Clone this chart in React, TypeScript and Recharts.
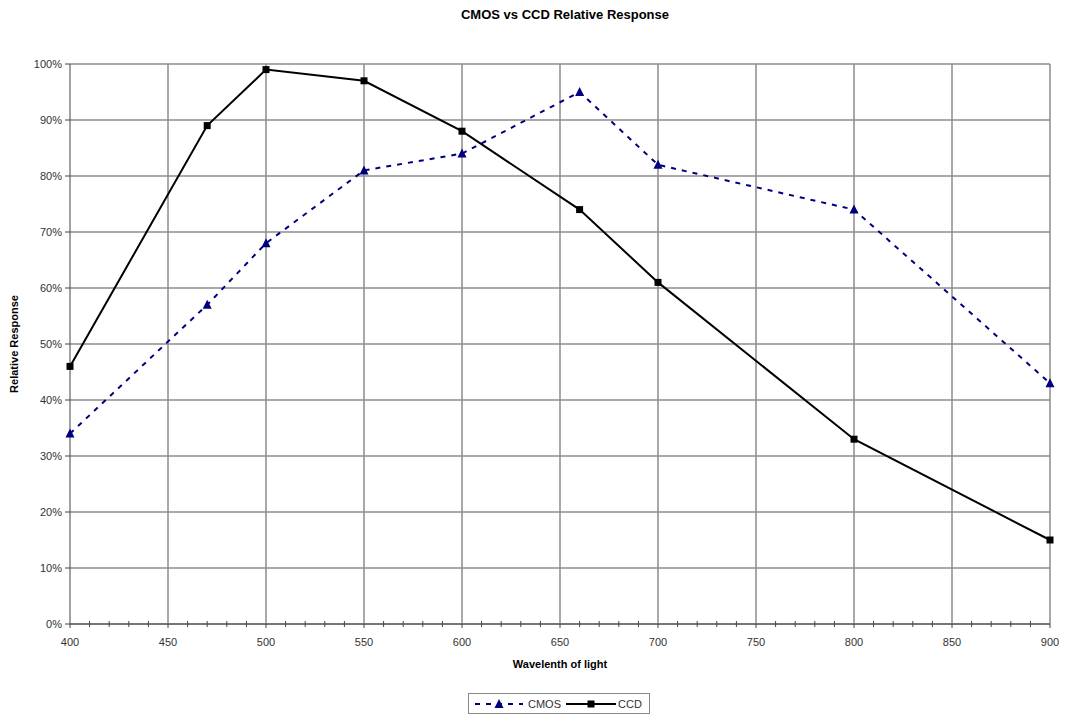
import { LineChart, Line, XAxis, YAxis, CartesianGrid, ReferenceLine } from 'recharts';

const FONT = '"Liberation Sans", Arial, sans-serif';

// values
const wavelengths = [400, 470, 500, 550, 600, 660, 700, 800, 900];
const cmosValues = [34, 57, 68, 81, 84, 95, 82, 74, 43];
const ccdValues = [46, 89, 99, 97, 88, 74, 61, 33, 15];

const majorTicks = [400, 450, 500, 550, 600, 650, 700, 750, 800, 850, 900];
const minorStep = 10;
const xTicks = Array.from({ length: (900 - 400) / minorStep + 1 }, (_, i) => 400 + i * minorStep);
const yTicks = [0, 10, 20, 30, 40, 50, 60, 70, 80, 90, 100];

const CMOS_COLOR = '#00007f';
const CCD_COLOR = '#000000';
const GRID = '#8c8c8c';

const data = wavelengths.map((w, i) => ({ wavelength: w, cmos: cmosValues[i], ccd: ccdValues[i] }));

const XTick = ({ x, y, payload }: any) => {
  const v = payload.value;
  const major = v % 50 === 0;
  return (
    <g>
      {major
        ? <line x1={x} x2={x} y1={y} y2={y + 4} stroke="#444" />
        : <line x1={x} x2={x} y1={y - 3} y2={y + 3} stroke="#444" />}
      {major && (
        <text x={x} y={y + 22} textAnchor="middle" fontSize={11} fill="#333" fontFamily={FONT}>
          {v}
        </text>
      )}
    </g>
  );
};

const TriangleDot = ({ cx, cy }: any) => {
  if (cx == null || cy == null) return null;
  return <polygon points={`${cx},${cy - 5} ${cx - 4.5},${cy + 4} ${cx + 4.5},${cy + 4}`} fill={CMOS_COLOR} />;
};

const SquareDot = ({ cx, cy }: any) => {
  if (cx == null || cy == null) return null;
  return <rect x={cx - 3.5} y={cy - 3.5} width={7} height={7} fill={CCD_COLOR} />;
};

const LegendBox = () => (
  <div
    style={{
      position: 'absolute', left: 468, top: 693, width: 180, height: 19,
      border: '1px solid #888', display: 'flex', alignItems: 'center',
      fontFamily: FONT, fontSize: 11, color: '#333',
    }}
  >
    <svg width={52} height={12} style={{ marginLeft: 4 }}>
      <line x1={2} x2={50} y1={6} y2={6} stroke={CMOS_COLOR} strokeWidth={2} strokeDasharray="5 6" />
      <polygon points="26,1 21.5,10 30.5,10" fill={CMOS_COLOR} />
    </svg>
    <span style={{ marginLeft: 3 }}>CMOS</span>
    <svg width={52} height={12} style={{ marginLeft: 4 }}>
      <line x1={1} x2={51} y1={6} y2={6} stroke={CCD_COLOR} strokeWidth={2} />
      <rect x={22.5} y={2.5} width={7} height={7} fill={CCD_COLOR} />
    </svg>
    <span style={{ marginLeft: 1 }}>CCD</span>
  </div>
);

export default function App() {
  return (
    <div style={{ position: 'absolute', left: 0, top: 0, width: 1065, height: 717, background: '#fff' }}>
      <div
        style={{
          position: 'absolute', top: 7, left: 0, width: 1130, textAlign: 'center',
          fontFamily: FONT, fontWeight: 'bold', fontSize: 13, lineHeight: '16px', color: '#000',
        }}
      >
        CMOS vs CCD Relative Response
      </div>
      <LineChart
        width={1065}
        height={717}
        data={data}
        margin={{ top: 64, right: 15, left: 0, bottom: 49 }}
        style={{ fontFamily: FONT }}
      >
        <CartesianGrid vertical={false} stroke={GRID} strokeWidth={1.5} />
        {majorTicks.slice(1).map((t) => (
          <ReferenceLine key={t} x={t} stroke={GRID} strokeWidth={1.5} />
        ))}
        <XAxis
          dataKey="wavelength"
          type="number"
          domain={[400, 900]}
          ticks={xTicks}
          interval={0}
          tick={<XTick />}
          tickLine={false}
          tickSize={0}
          tickMargin={0}
          height={44}
          stroke="#444"
          label={{ value: 'Wavelenth of light', position: 'insideBottom', offset: 0, fontSize: 11, fontWeight: 'bold', fill: '#000' }}
        />
        <YAxis
          type="number"
          domain={[0, 100]}
          ticks={yTicks}
          interval={0}
          width={70}
          tickSize={5}
          tickMargin={3}
          stroke="#444"
          tick={{ fontSize: 11, fill: '#333' }}
          tickFormatter={(v) => `${v}%`}
          label={{ value: 'Relative Response', angle: -90, position: 'insideLeft', offset: 14, fontSize: 11, fontWeight: 'bold', fill: '#000', style: { textAnchor: 'middle' } }}
        />
        <Line
          dataKey="cmos"
          type="linear"
          stroke={CMOS_COLOR}
          strokeWidth={2}
          strokeDasharray="5 6"
          dot={<TriangleDot />}
          isAnimationActive={false}
        />
        <Line
          dataKey="ccd"
          type="linear"
          stroke={CCD_COLOR}
          strokeWidth={2}
          dot={<SquareDot />}
          isAnimationActive={false}
        />
      </LineChart>
      <LegendBox />
    </div>
  );
}
